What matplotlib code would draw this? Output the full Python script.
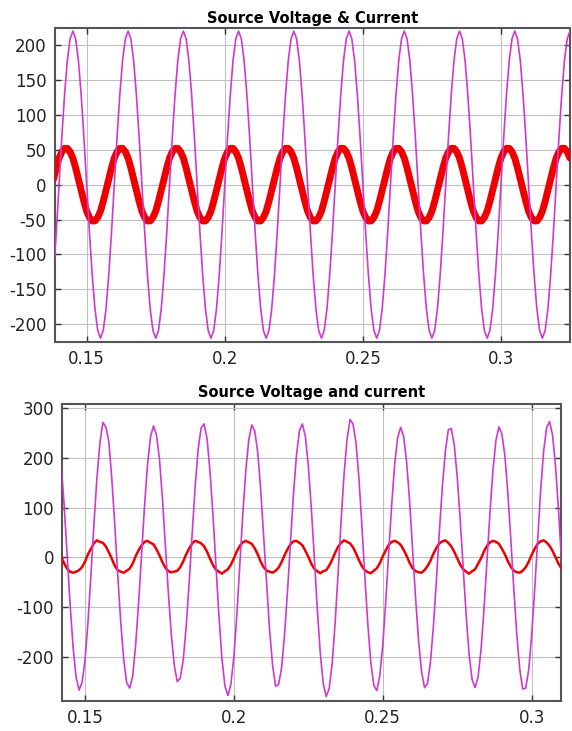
import numpy as np
import matplotlib
matplotlib.use("Agg")
import matplotlib.pyplot as plt

plt.rcParams["axes.unicode_minus"] = False

# ---------------- data ----------------
# Top panel: samples every 1 ms starting at t = 0.138 s
top_t0, top_dt = 0.138, 0.001
top_voltage = [
    -129, -68,
    0, 68, 129, 178, 209, 220, 209, 178, 129, 68, 0, -68, -129, -178, -209, -220, -209, -178, -129, -68,
    0, 68, 129, 178, 209, 220, 209, 178, 129, 68, 0, -68, -129, -178, -209, -220, -209, -178, -129, -68,
    0, 68, 129, 178, 209, 220, 209, 178, 129, 68, 0, -68, -129, -178, -209, -220, -209, -178, -129, -68,
    0, 68, 129, 178, 209, 220, 209, 178, 129, 68, 0, -68, -129, -178, -209, -220, -209, -178, -129, -68,
    0, 68, 129, 178, 209, 220, 209, 178, 129, 68, 0, -68, -129, -178, -209, -220, -209, -178, -129, -68,
    0, 68, 129, 178, 209, 220, 209, 178, 129, 68, 0, -68, -129, -178, -209, -220, -209, -178, -129, -68,
    0, 68, 129, 178, 209, 220, 209, 178, 129, 68, 0, -68, -129, -178, -209, -220, -209, -178, -129, -68,
    0, 68, 129, 178, 209, 220, 209, 178, 129, 68, 0, -68, -129, -178, -209, -220, -209, -178, -129, -68,
    0, 68, 129, 178, 209, 220, 209, 178, 129, 68, 0, -68, -129, -178, -209, -220, -209, -178, -129, -68,
    0, 68, 129, 178, 209, 220,
]
top_current = [
    8, 24, 38, 47, 52, 52, 47, 38, 24, 8, -8, -24, -38, -47, -52, -52, -47, -38, -24, -8,
    8, 24, 38, 47, 52, 52, 47, 38, 24, 8, -8, -24, -38, -47, -52, -52, -47, -38, -24, -8,
    8, 24, 38, 47, 52, 52, 47, 38, 24, 8, -8, -24, -38, -47, -52, -52, -47, -38, -24, -8,
    8, 24, 38, 47, 52, 52, 47, 38, 24, 8, -8, -24, -38, -47, -52, -52, -47, -38, -24, -8,
    8, 24, 38, 47, 52, 52, 47, 38, 24, 8, -8, -24, -38, -47, -52, -52, -47, -38, -24, -8,
    8, 24, 38, 47, 52, 52, 47, 38, 24, 8, -8, -24, -38, -47, -52, -52, -47, -38, -24, -8,
    8, 24, 38, 47, 52, 52, 47, 38, 24, 8, -8, -24, -38, -47, -52, -52, -47, -38, -24, -8,
    8, 24, 38, 47, 52, 52, 47, 38, 24, 8, -8, -24, -38, -47, -52, -52, -47, -38, -24, -8,
    8, 24, 38, 47, 52, 52, 47, 38, 24, 8, -8, -24, -38, -47, -52, -52, -47, -38, -24, -8,
    8, 24, 38, 47, 52, 52, 47, 38,
]

# Bottom panel: samples every 1 ms starting at t = 0.142 s
bot_t0, bot_dt = 0.142, 0.001
bot_voltage = [
    190, 105, 6, -94, -180, -241, -267, -252, -208, -131,
    -35, 66, 159, 229, 271, 262, 233, 159, 66, -35,
    -130, -205, -252, -263, -240, -177, -92, 6, 103, 186,
    242, 264, 246, 198, 119, 23, -72, -156, -218, -250,
    -243, -206, -138, -50, 48, 142, 217, 260, 268, 238,
    171, 83, -18, -120, -204, -259, -278, -255, -200, -115,
    -13, 87, 174, 236, 266, 254, 211, 136, 41, -57,
    -147, -217, -259, -256, -223, -157, -69, 29, 126, 204,
    254, 268, 243, 184, 99, 1, -103, -192, -254, -280,
    -264, -214, -132, -32, 73, 167, 237, 277, 268, 231,
    158, 62, -41, -136, -212, -258, -268, -238, -176, -89,
    11, 106, 187, 241, 261, 243, 192, 113, 18, -80,
    -166, -229, -262, -254, -211, -139, -47, 51, 142, 212,
    256, 259, 226, 162, 75, -22, -117, -196, -246, -262,
    -241, -185, -103, -7, 90, 175, 235, 262, 248, 204,
    129, 36, -64, -155, -225, -265, -263, -226, -157, -66,
    35, 133, 212, 260, 273, 246, 184, 96, -5,
]
bot_current = [
    1, -12, -23, -29, -31, -29, -26, -20, -9, 6,
    17, 28, 34, 31, 29, 22, 10, -3, -17, -26,
    -29, -31, -27, -23, -13, 2, 14, 24, 31, 33,
    29, 26, 16, 4, -10, -21, -28, -30, -29, -27,
    -20, -8, 6, 18, 28, 33, 31, 28, 22, 11,
    -3, -16, -25, -29, -33, -28, -24, -15, -2, 12,
    23, 30, 33, 30, 27, 18, 6, -9, -20, -27,
    -29, -31, -27, -21, -10, 4, 16, 26, 32, 33,
    29, 24, 13, 1, -13, -23, -28, -32, -28, -26,
    -17, -5, 9, 21, 29, 34, 31, 28, 20, 8,
    -6, -18, -26, -30, -32, -27, -22, -12, 2, 14,
    25, 31, 33, 30, 25, 15, 3, -11, -22, -28,
    -30, -31, -26, -18, -7, 7, 19, 28, 32, 34,
    29, 22, 11, -2, -15, -24, -29, -33, -28, -24,
    -13, -2, 12, 23, 30, 33, 31, 27, 17, 6,
    -8, -19, -27, -30, -31, -27, -20, -9, 5, 17,
    27, 32, 34, 30, 23, 13, 0, -13, -22,
]

top_title = "Source Voltage & Current"
bot_title = "Source Voltage and current"
top_xticks = [0.15, 0.2, 0.25, 0.3]
top_xticklabels = ["0.15", "0.2", "0.25", "0.3"]
top_yticks = [-200, -150, -100, -50, 0, 50, 100, 150, 200]
bot_xticks = [0.15, 0.2, 0.25, 0.3]
bot_xticklabels = ["0.15", "0.2", "0.25", "0.3"]
bot_yticks = [-200, -100, 0, 100, 200, 300]

# ---------------- drawing ----------------
VCOL = "#d038d0"
ICOL = "#ee0000"

fig = plt.figure(figsize=(5.72, 7.31), dpi=100)
ax1 = fig.add_axes([0.096, 0.5326, 0.9005, 0.4287])
ax2 = fig.add_axes([0.109, 0.041, 0.871, 0.4063])

t_top = top_t0 + top_dt * np.arange(len(top_voltage))
t_bot = bot_t0 + bot_dt * np.arange(len(bot_voltage))

ax1.plot(t_top, top_current, color=ICOL, lw=5.0, solid_capstyle="round", zorder=3)
ax1.plot(t_top, top_voltage, color=VCOL, lw=1.2, zorder=4)
ax1.set_xlim(0.1385, 0.325)
ax1.set_ylim(-225, 224)
ax1.set_xticks(top_xticks)
ax1.set_xticklabels(top_xticklabels)
ax1.set_yticks(top_yticks)
ax1.set_title(top_title, fontsize=10.5, fontweight="bold", pad=4)

ax2.plot(t_bot, bot_current, color=ICOL, lw=1.8, zorder=3)
ax2.plot(t_bot, bot_voltage, color=VCOL, lw=1.2, zorder=4)
ax2.set_xlim(0.1424, 0.3097)
ax2.set_ylim(-289, 308)
ax2.set_xticks(bot_xticks)
ax2.set_xticklabels(bot_xticklabels)
ax2.set_yticks(bot_yticks)
ax2.set_title(bot_title, fontsize=10.5, fontweight="bold", pad=5)

for ax in (ax1, ax2):
    ax.grid(True, color="#c0c0c0", lw=0.8)
    ax.set_axisbelow(True)
    for s in ax.spines.values():
        s.set_color("#555555")
        s.set_linewidth(1.5)
    ax.tick_params(direction="in", top=True, right=True, length=4, width=1,
                   color="#333333", labelsize=12, labelcolor="#222222", pad=6)

fig.savefig("out.png", dpi=100)
